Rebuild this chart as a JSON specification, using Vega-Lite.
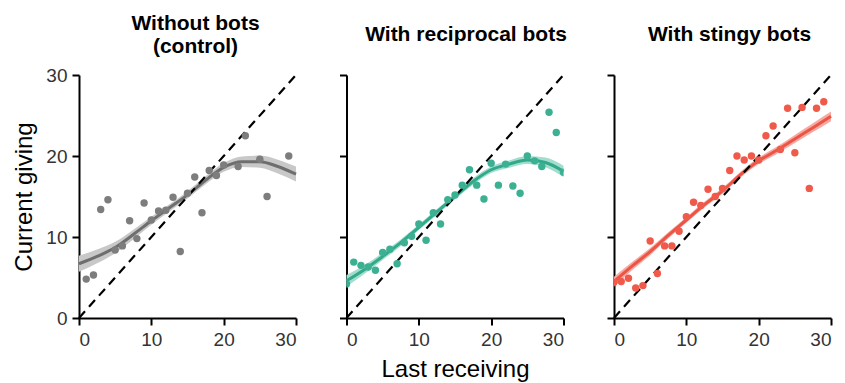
{
  "$schema": "https://vega.github.io/schema/vega-lite/v6.json",
  "background": "white",
  "padding": {"left": 12, "top": 12, "right": 5, "bottom": 5},
  "spacing": 50.5,
  "bounds": "flush",
  "datasets": {
    "pts": [
      {"panel": "A", "x": 1, "y": 4.8}, {"panel": "A", "x": 2, "y": 5.3}, {"panel": "A", "x": 3, "y": 13.4}, {"panel": "A", "x": 4, "y": 14.6},
      {"panel": "A", "x": 5, "y": 8.4}, {"panel": "A", "x": 6, "y": 8.9}, {"panel": "A", "x": 7, "y": 12.0}, {"panel": "A", "x": 8, "y": 9.8},
      {"panel": "A", "x": 9, "y": 14.2}, {"panel": "A", "x": 10, "y": 12.1}, {"panel": "A", "x": 11, "y": 13.2}, {"panel": "A", "x": 12, "y": 13.3},
      {"panel": "A", "x": 13, "y": 14.9}, {"panel": "A", "x": 14, "y": 8.2}, {"panel": "A", "x": 15, "y": 15.4}, {"panel": "A", "x": 16, "y": 17.4},
      {"panel": "A", "x": 17, "y": 13.0}, {"panel": "A", "x": 18, "y": 18.2}, {"panel": "A", "x": 19, "y": 17.6}, {"panel": "A", "x": 20, "y": 18.9},
      {"panel": "A", "x": 22, "y": 18.7}, {"panel": "A", "x": 23, "y": 22.5}, {"panel": "A", "x": 25, "y": 19.6}, {"panel": "A", "x": 26, "y": 15.0},
      {"panel": "A", "x": 29, "y": 20.0},
      {"panel": "B", "x": 0, "y": 4.2}, {"panel": "B", "x": 1, "y": 6.9}, {"panel": "B", "x": 2, "y": 6.5}, {"panel": "B", "x": 3, "y": 6.3},
      {"panel": "B", "x": 4, "y": 5.9}, {"panel": "B", "x": 5, "y": 8.1}, {"panel": "B", "x": 6, "y": 8.5}, {"panel": "B", "x": 7, "y": 6.7},
      {"panel": "B", "x": 8, "y": 9.3}, {"panel": "B", "x": 9, "y": 10.1}, {"panel": "B", "x": 10, "y": 11.6}, {"panel": "B", "x": 11, "y": 9.6},
      {"panel": "B", "x": 12, "y": 13.0}, {"panel": "B", "x": 13, "y": 11.6}, {"panel": "B", "x": 14, "y": 14.6}, {"panel": "B", "x": 15, "y": 15.2},
      {"panel": "B", "x": 16, "y": 16.4}, {"panel": "B", "x": 17, "y": 18.3}, {"panel": "B", "x": 18, "y": 16.4}, {"panel": "B", "x": 19, "y": 14.7},
      {"panel": "B", "x": 20, "y": 19.1}, {"panel": "B", "x": 21, "y": 16.4}, {"panel": "B", "x": 22, "y": 19.0}, {"panel": "B", "x": 23, "y": 16.3},
      {"panel": "B", "x": 24, "y": 15.4}, {"panel": "B", "x": 25, "y": 20.0}, {"panel": "B", "x": 26, "y": 19.4}, {"panel": "B", "x": 27, "y": 18.7},
      {"panel": "B", "x": 28, "y": 25.4}, {"panel": "B", "x": 29, "y": 22.9}, {"panel": "B", "x": 30, "y": 18.0},
      {"panel": "C", "x": 0, "y": 4.4}, {"panel": "C", "x": 1, "y": 4.5}, {"panel": "C", "x": 2, "y": 4.9}, {"panel": "C", "x": 3, "y": 3.7},
      {"panel": "C", "x": 4, "y": 4.0}, {"panel": "C", "x": 5, "y": 9.5}, {"panel": "C", "x": 6, "y": 5.5}, {"panel": "C", "x": 7, "y": 8.9},
      {"panel": "C", "x": 8, "y": 8.9}, {"panel": "C", "x": 9, "y": 10.7}, {"panel": "C", "x": 10, "y": 12.5}, {"panel": "C", "x": 11, "y": 14.3},
      {"panel": "C", "x": 12, "y": 13.9}, {"panel": "C", "x": 13, "y": 15.9}, {"panel": "C", "x": 14, "y": 15.0}, {"panel": "C", "x": 15, "y": 16.0},
      {"panel": "C", "x": 16, "y": 18.2}, {"panel": "C", "x": 17, "y": 20.0}, {"panel": "C", "x": 18, "y": 19.5}, {"panel": "C", "x": 19, "y": 20.0},
      {"panel": "C", "x": 20, "y": 19.5}, {"panel": "C", "x": 21, "y": 22.5}, {"panel": "C", "x": 22, "y": 23.7}, {"panel": "C", "x": 23, "y": 20.8},
      {"panel": "C", "x": 24, "y": 25.9}, {"panel": "C", "x": 25, "y": 20.4}, {"panel": "C", "x": 26, "y": 26.0}, {"panel": "C", "x": 27, "y": 16.0},
      {"panel": "C", "x": 28, "y": 25.9}, {"panel": "C", "x": 29, "y": 26.7}
    ],
    "fit": [
      {"panel": "A", "x": 0, "y": 6.7, "lo": 5.7, "hi": 7.7}, {"panel": "A", "x": 2.5, "y": 7.6, "lo": 6.75, "hi": 8.45},
      {"panel": "A", "x": 5, "y": 8.7, "lo": 8.0, "hi": 9.4}, {"panel": "A", "x": 7.5, "y": 10.3, "lo": 9.7, "hi": 10.9},
      {"panel": "A", "x": 10, "y": 12.0, "lo": 11.5, "hi": 12.5}, {"panel": "A", "x": 12.5, "y": 13.6, "lo": 13.15, "hi": 14.05},
      {"panel": "A", "x": 15, "y": 15.2, "lo": 14.75, "hi": 15.65}, {"panel": "A", "x": 17.5, "y": 17.0, "lo": 16.5, "hi": 17.5},
      {"panel": "A", "x": 20, "y": 18.6, "lo": 18.05, "hi": 19.15}, {"panel": "A", "x": 22.5, "y": 19.3, "lo": 18.65, "hi": 19.95},
      {"panel": "A", "x": 25, "y": 19.3, "lo": 18.55, "hi": 20.05}, {"panel": "A", "x": 27.5, "y": 18.7, "lo": 17.85, "hi": 19.55},
      {"panel": "A", "x": 30, "y": 17.75, "lo": 16.85, "hi": 18.7},
      {"panel": "B", "x": 0, "y": 4.6, "lo": 3.9, "hi": 5.3}, {"panel": "B", "x": 2.5, "y": 6.0, "lo": 5.45, "hi": 6.55},
      {"panel": "B", "x": 5, "y": 7.6, "lo": 7.15, "hi": 8.05}, {"panel": "B", "x": 7.5, "y": 9.3, "lo": 8.9, "hi": 9.7},
      {"panel": "B", "x": 10, "y": 11.2, "lo": 10.85, "hi": 11.55}, {"panel": "B", "x": 12.5, "y": 13.1, "lo": 12.75, "hi": 13.45},
      {"panel": "B", "x": 15, "y": 15.0, "lo": 14.65, "hi": 15.35}, {"panel": "B", "x": 17.5, "y": 16.85, "lo": 16.45, "hi": 17.25},
      {"panel": "B", "x": 20, "y": 18.3, "lo": 17.9, "hi": 18.7}, {"panel": "B", "x": 22.5, "y": 19.0, "lo": 18.55, "hi": 19.45},
      {"panel": "B", "x": 25, "y": 19.5, "lo": 19.0, "hi": 20.0}, {"panel": "B", "x": 27.5, "y": 19.2, "lo": 18.6, "hi": 19.8},
      {"panel": "B", "x": 30, "y": 18.1, "lo": 17.4, "hi": 18.8},
      {"panel": "C", "x": 0, "y": 4.5, "lo": 3.9, "hi": 5.1}, {"panel": "C", "x": 2.5, "y": 6.4, "lo": 5.9, "hi": 6.9},
      {"panel": "C", "x": 5, "y": 8.2, "lo": 7.75, "hi": 8.65}, {"panel": "C", "x": 7.5, "y": 10.2, "lo": 9.8, "hi": 10.6},
      {"panel": "C", "x": 10, "y": 12.1, "lo": 11.75, "hi": 12.45}, {"panel": "C", "x": 12.5, "y": 14.0, "lo": 13.65, "hi": 14.35},
      {"panel": "C", "x": 15, "y": 15.7, "lo": 15.35, "hi": 16.05}, {"panel": "C", "x": 17.5, "y": 17.7, "lo": 17.35, "hi": 18.05},
      {"panel": "C", "x": 20, "y": 19.4, "lo": 19.0, "hi": 19.8}, {"panel": "C", "x": 22.5, "y": 20.7, "lo": 20.25, "hi": 21.15},
      {"panel": "C", "x": 25, "y": 22.1, "lo": 21.6, "hi": 22.6}, {"panel": "C", "x": 27.5, "y": 23.5, "lo": 22.95, "hi": 24.05},
      {"panel": "C", "x": 30, "y": 24.9, "lo": 24.3, "hi": 25.5}
    ],
    "diag": [{"x": 0, "y": 0}, {"x": 30, "y": 30}]
  },
  "hconcat": [
    {
      "width": 217, "height": 243,
      "title": {"text": ["Without bots", "(control)"], "dx": 8, "offset": -8, "baseline": "alphabetic", "frame": "group", "lineHeight": 23.5},
      "encoding": {
        "x": {"field": "x", "type": "quantitative", "scale": {"domain": [0, 30], "nice": false}, "axis": {"title": null, "values": [0, 10, 20, 30]}},
        "y": {"field": "y", "type": "quantitative", "scale": {"domain": [0, 30], "nice": false}, "axis": {"title": "Current giving", "values": [0, 10, 20, 30]}}
      },
      "layer": [
        {"data": {"name": "fit"}, "transform": [{"filter": "datum.panel === 'A'"}], "mark": {"type": "area", "color": "#c8c8c8", "interpolate": "monotone"}, "encoding": {"y": {"field": "lo", "type": "quantitative"}, "y2": {"field": "hi"}}},
        {"data": {"name": "fit"}, "transform": [{"filter": "datum.panel === 'A'"}], "mark": {"type": "line", "color": "#6e6e6e", "strokeWidth": 3, "interpolate": "monotone"}},
        {"data": {"name": "diag"}, "mark": {"type": "line", "color": "#000000", "strokeWidth": 2.2, "strokeDash": [9, 6]}, "encoding": {}},
        {"data": {"name": "pts"}, "transform": [{"filter": "datum.panel === 'A'"}], "mark": {"type": "circle", "color": "#7d7d7d", "opacity": 1, "size": 55, "clip": true}}
      ]
    },
    {
      "width": 217, "height": 243,
      "title": {"text": "With reciprocal bots", "dx": 11, "offset": 9, "baseline": "alphabetic", "frame": "group"},
      "encoding": {
        "x": {"field": "x", "type": "quantitative", "scale": {"domain": [0, 30], "nice": false}, "axis": {"title": "Last receiving", "values": [0, 10, 20, 30]}},
        "y": {"field": "y", "type": "quantitative", "scale": {"domain": [0, 30], "nice": false}, "axis": {"title": null, "labels": false, "values": [0, 10, 20, 30]}}
      },
      "layer": [
        {"data": {"name": "fit"}, "transform": [{"filter": "datum.panel === 'B'"}], "mark": {"type": "area", "color": "#a2ddcd", "interpolate": "monotone"}, "encoding": {"y": {"field": "lo", "type": "quantitative"}, "y2": {"field": "hi"}}},
        {"data": {"name": "fit"}, "transform": [{"filter": "datum.panel === 'B'"}], "mark": {"type": "line", "color": "#31a98a", "strokeWidth": 3, "interpolate": "monotone"}},
        {"data": {"name": "diag"}, "mark": {"type": "line", "color": "#000000", "strokeWidth": 2.2, "strokeDash": [9, 6]}, "encoding": {}},
        {"data": {"name": "pts"}, "transform": [{"filter": "datum.panel === 'B'"}], "mark": {"type": "circle", "color": "#3bb092", "opacity": 1, "size": 55, "clip": true}}
      ]
    },
    {
      "width": 217, "height": 243,
      "title": {"text": "With stingy bots", "dx": 7, "offset": 9, "baseline": "alphabetic", "frame": "group"},
      "encoding": {
        "x": {"field": "x", "type": "quantitative", "scale": {"domain": [0, 30], "nice": false}, "axis": {"title": null, "values": [0, 10, 20, 30]}},
        "y": {"field": "y", "type": "quantitative", "scale": {"domain": [0, 30], "nice": false}, "axis": {"title": null, "labels": false, "values": [0, 10, 20, 30]}}
      },
      "layer": [
        {"data": {"name": "fit"}, "transform": [{"filter": "datum.panel === 'C'"}], "mark": {"type": "area", "color": "#f6aaa2", "interpolate": "monotone"}, "encoding": {"y": {"field": "lo", "type": "quantitative"}, "y2": {"field": "hi"}}},
        {"data": {"name": "fit"}, "transform": [{"filter": "datum.panel === 'C'"}], "mark": {"type": "line", "color": "#ec5545", "strokeWidth": 3, "interpolate": "monotone"}},
        {"data": {"name": "diag"}, "mark": {"type": "line", "color": "#000000", "strokeWidth": 2.2, "strokeDash": [9, 6]}, "encoding": {}},
        {"data": {"name": "pts"}, "transform": [{"filter": "datum.panel === 'C'"}], "mark": {"type": "circle", "color": "#ef5a4b", "opacity": 1, "size": 55, "clip": true}}
      ]
    }
  ],
  "config": {
    "view": {"stroke": null},
    "font": "Liberation Sans",
    "title": {"font": "Liberation Sans", "fontSize": 21, "fontWeight": "bold", "color": "#000000", "anchor": "middle"},
    "axis": {
      "grid": false,
      "domainColor": "#000000", "domainWidth": 2,
      "tickColor": "#000000", "tickWidth": 2, "tickSize": 7,
      "labelFont": "Liberation Sans", "labelFontSize": 19, "labelColor": "#333333", "labelPadding": 5,
      "titleFont": "Liberation Sans", "titleFontSize": 24, "titleFontWeight": "normal", "titleColor": "#000000"
    },
    "axisX": {"titlePadding": 8},
    "axisY": {"titlePadding": 9}
  }
}
